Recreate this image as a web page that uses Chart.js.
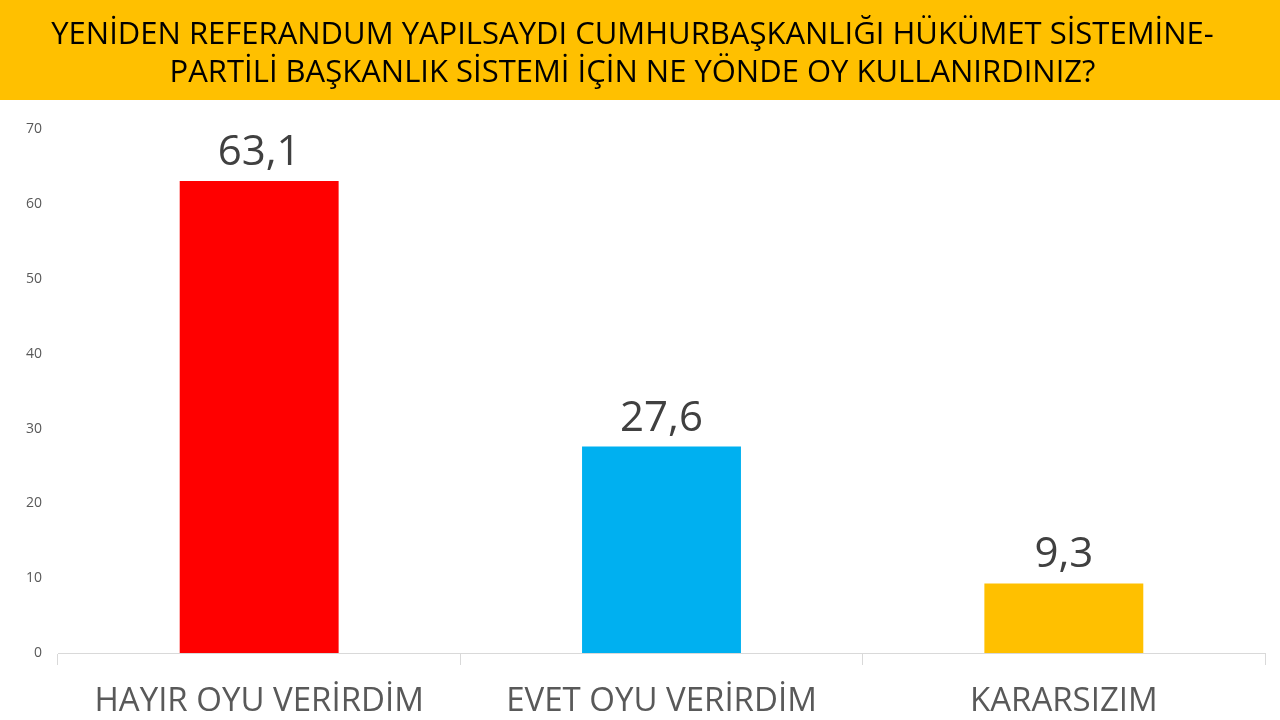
<!DOCTYPE html>
<html>
<head>
<meta charset="utf-8">
<script src="https://cdn.jsdelivr.net/npm/chart.js@4"></script>
<style>
html,body{margin:0;padding:0;background:#fff;}
#wrap{width:1280px;height:720px;position:relative;}
</style>
</head>
<body>
<div id="wrap"><canvas id="c" width="1280" height="720"></canvas></div>
<script>
const titleLines = ["YENİDEN REFERANDUM YAPILSAYDI CUMHURBAŞKANLIĞI HÜKÜMET SİSTEMİNE-", "PARTİLİ BAŞKANLIK SİSTEMİ İÇİN NE YÖNDE OY KULLANIRDINIZ?"];
const categories = ["HAYIR OYU VERİRDİM", "EVET OYU VERİRDİM", "KARARSIZIM"];
const values = [63.1, 27.6, 9.3];
const barColors = ["#FF0000", "#00B0F0", "#FFC000"];
const yTicks = [0, 10, 20, 30, 40, 50, 60, 70];

const bannerPlugin = {
  id: 'banner',
  beforeDraw(chart) {
    const ctx = chart.ctx;
    ctx.save();
    ctx.fillStyle = '#FFC000';
    ctx.fillRect(0, 0, chart.width, 100);
    ctx.restore();
  }
};

const labelPlugin = {
  id: 'valueLabels',
  afterDatasetsDraw(chart) {
    const ctx = chart.ctx;
    const meta = chart.getDatasetMeta(0);
    ctx.save();
    ctx.font = '42px "Open Sans"';
    ctx.fillStyle = '#404040';
    ctx.textAlign = 'center';
    ctx.textBaseline = 'bottom';
    meta.data.forEach((bar, i) => {
      const txt = values[i].toFixed(1).replace('.', ',');
      ctx.fillText(txt, bar.x, bar.y - 7);
    });
    ctx.restore();
  }
};

new Chart(document.getElementById('c'), {
  type: 'bar',
  data: {
    labels: categories,
    datasets: [{
      data: values,
      backgroundColor: barColors,
      borderWidth: 0,
      categoryPercentage: 1,
      barPercentage: 0.395
    }]
  },
  options: {
    responsive: false,
    animation: false,
    devicePixelRatio: 1,
    layout: { padding: { left: 0, right: 15, top: 0, bottom: 0 } },
    plugins: {
      legend: { display: false },
      tooltip: { enabled: false },
      title: {
        display: true,
        text: titleLines,
        color: '#000000',
        font: { family: '"Open Sans"', size: 31, weight: 'normal', lineHeight: 1.2 },
        padding: { top: 17, bottom: 38 }
      }
    },
    scales: {
      x: {
        grid: { display: true, drawOnChartArea: false, drawTicks: true, tickLength: 12, color: '#D9D9D9', offset: true },
        border: { display: true, color: '#D9D9D9', width: 1 },
        ticks: { color: '#595959', font: { family: '"Open Sans"', size: 33 }, padding: 17, maxRotation: 0 },
        afterFit(scale) { scale.height = 67; }
      },
      y: {
        min: 0, max: 70,
        afterBuildTicks(scale) { scale.ticks = yTicks.map(v => ({ value: v })); },
        grid: { display: false, drawTicks: false },
        border: { display: false },
        ticks: { color: '#595959', font: { family: '"Open Sans"', size: 14 }, padding: 16 },
        afterFit(scale) { scale.width = 58; }
      }
    }
  },
  plugins: [bannerPlugin, labelPlugin]
});
</script>
</body>
</html>
